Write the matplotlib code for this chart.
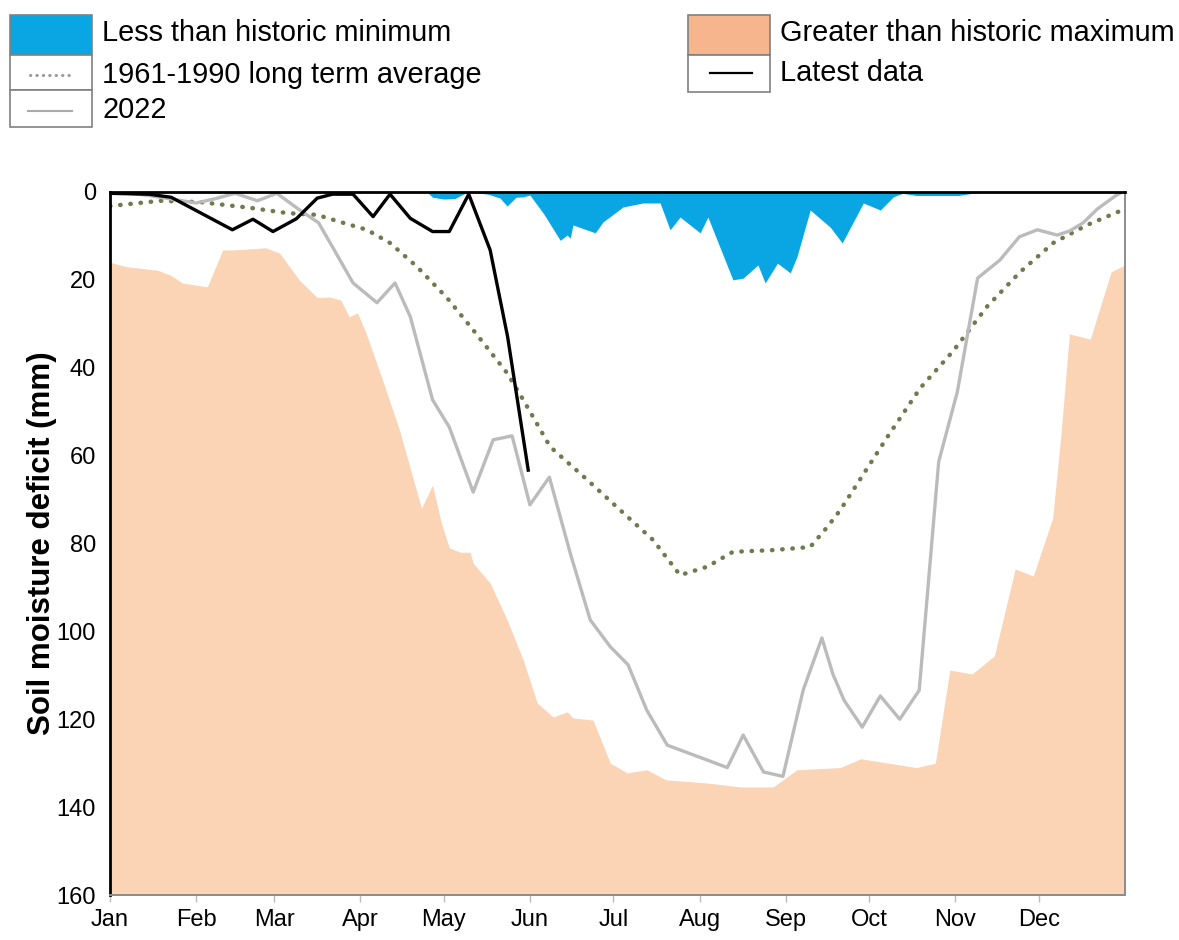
import matplotlib
matplotlib.use("Agg")
import matplotlib.pyplot as plt
from matplotlib.patches import Rectangle
from matplotlib.lines import Line2D

plt.rcParams['font.family'] = ['Liberation Sans', 'DejaVu Sans']

# month ticks (day of year)
month_days = [0, 31, 59, 90, 120, 151, 181, 212, 243, 273, 304, 334]
month_labels = ["Jan", "Feb", "Mar", "Apr", "May", "Jun",
                "Jul", "Aug", "Sep", "Oct", "Nov", "Dec"]

# greater than historic maximum (upper edge of orange area)
max_days = [0, 6, 17, 22, 26, 35, 40.5, 44, 56, 61, 68, 74.5, 79, 83, 86, 89, 92, 98,
            104, 112, 116, 119, 122, 126, 129.5, 130.6, 136.7, 142.8, 148.6, 153.6,
            159.4, 164.4, 166.5, 173.7, 179.9, 186, 193, 200, 214.7, 226.6, 238.5,
            247, 262.6, 270, 280, 290, 296.8, 302, 310, 318, 325.5, 332, 339, 342,
            345, 352.5, 360, 365]
max_vals = [16, 17, 17.8, 19, 20.7, 21.6, 13.2, 13.2, 12.7, 13.9, 20, 24, 23.9, 24.6,
            28.4, 27.5, 32, 42.8, 54, 72, 66.7, 75, 81, 82, 82, 84.5, 89, 97.4, 106.5,
            116.3, 119.5, 118.3, 119.7, 120.2, 130, 132.2, 131.5, 133.8, 134.5, 135.4,
            135.4, 131.5, 131, 129, 130, 131, 130, 108.8, 109.7, 105.6, 85.8, 87.4,
            74.2, 55, 32.3, 33.5, 18.2, 16.6]

# less than historic minimum (lower edge of blue area)
min_days = [0, 114, 116, 120, 124, 127, 129, 136, 140.3, 142.8, 146, 148.6, 151,
            156, 161.9, 164.4, 165.5, 166.5, 174.5, 177.3, 184.5, 191.7, 197.8,
            201.4, 205, 212.2, 215, 224, 227.7, 233, 235.6, 240, 244.6, 247, 251.8,
            259, 263.3, 270.9, 277, 281.7, 285, 290, 305, 310, 315, 365]
min_vals = [0, 0, 1.2, 1.6, 1.5, 0.5, 0, 0.5, 1.4, 3.2, 1.2, 1.1, 0.7, 5, 11, 9.8,
            10.5, 7.5, 9.3, 6.8, 3.4, 2.5, 2.5, 8.6, 5.7, 9.3, 5.7, 20, 19.6, 16.6,
            20.7, 16.2, 18.4, 14.8, 4.1, 8, 11.6, 2.5, 4.1, 1.1, 0.3, 0.8, 0.8, 0.3,
            0, 0]

# 1961-1990 long term average
lta_days = [0, 18, 32.4, 50.4, 63.7, 74.5, 82.7, 92.4, 100.7, 110.4, 121.2, 130.6,
            142.8, 148.6, 158.3, 171.6, 184.5, 195.3, 205, 214.7, 224, 238.5, 251.8,
            258, 262.6, 267.3, 279.5, 291.4, 303.2, 315.5, 327.3, 339.2, 351.4,
            363.3, 365]
lta_vals = [3.2, 2, 2.3, 3.6, 4.8, 5.2, 6.8, 8.6, 11.6, 17, 24.1, 31.4, 41.2, 47.3,
            58, 65.5, 73, 79.2, 87.2, 85.3, 81.9, 81.5, 80.8, 76.2, 72.4, 67.8, 55.8,
            44.6, 36.2, 26, 18.2, 11.6, 7.5, 4.3, 4]

# 2022
y2022_days = [0, 7, 14, 21, 31, 38, 45, 53, 60, 68, 75, 80, 87.4, 96, 102.5, 108,
              116, 122, 130.6, 137.8, 144.6, 151, 158, 165.5, 172.7, 179.9, 186.3,
              193, 200.4, 222, 227.7, 235, 242, 249.3, 256, 260, 264, 270.5, 277,
              284, 291, 298, 304.7, 312, 320, 327, 333.5, 340.6, 345, 350, 355,
              361.5, 364]
y2022_vals = [0, 0.3, 0.8, 1.5, 2.5, 1.5, 0.3, 2, 0.3, 4, 7, 12.5, 20.7, 25.2, 20.7,
              28.4, 47.3, 53.5, 68.3, 56.4, 55.5, 71.2, 64.9, 82.2, 97.4, 103.5,
              107.6, 117.9, 125.9, 131, 123.6, 132, 133, 113.3, 101.5, 109.8, 115.7,
              121.8, 114.7, 120, 113.4, 61.4, 45.5, 19.6, 15.5, 10.2, 8.6, 9.8, 8.9,
              7, 3.9, 0.9, 0]

# latest data
latest_days = [0, 14, 22, 44, 51.4, 58.6, 67, 74.5, 80, 87.4, 94.6, 100.7, 108,
               116, 122, 129, 136.7, 143, 150.4]
latest_vals = [0.3, 0.5, 1.2, 8.6, 6.2, 9, 6.1, 1.4, 0.5, 0.5, 5.6, 0.5, 6, 9, 9,
               0.5, 13.2, 33, 63.3]

orange_fill = "#FBD3B5"
orange_key = "#F6B58D"
blue = "#0AA6E4"
grey = "#BBBBBB"
olive = "#6F7A4E"

fig = plt.figure(figsize=(11.79, 9.4), dpi=100)
ax = fig.add_axes([110 / 1179, 45 / 940, 1015 / 1179, 703 / 940])

ax.fill_between(max_days, max_vals, 160, color=orange_fill, lw=0, zorder=1)
ax.fill_between(min_days, 0, min_vals, color=blue, lw=0, zorder=1)
ax.plot(lta_days, lta_vals, color=olive, lw=3.2, linestyle=(0, (0.1, 2.2)),
        dash_capstyle="round", zorder=3)
ax.plot(y2022_days, y2022_vals, color=grey, lw=2.4, zorder=4)
ax.plot(latest_days, latest_vals, color="black", lw=2.4, zorder=5)

ax.set_xlim(0, 365)
ax.set_ylim(160, 0)
ax.set_xticks(month_days)
ax.set_xticklabels(month_labels, fontsize=17)
ax.set_yticks(range(0, 161, 20))
ax.tick_params(axis="y", length=0, pad=10, labelsize=17)
ax.tick_params(axis="x", length=5, width=1, color="#BBBBBB", pad=5)
ax.set_ylabel("Soil moisture deficit (mm)", fontsize=22.5, fontweight="bold")
ax.yaxis.set_label_coords(-0.052, 0.5)

for side in ["left", "top"]:
    ax.spines[side].set_color("black")
    ax.spines[side].set_linewidth(2)
for side in ["right", "bottom"]:
    ax.spines[side].set_color("#8C8C8C")
    ax.spines[side].set_linewidth(1.4)
for s in ax.spines.values():
    s.set_zorder(6)

# legend drawn as boxed keys along the top
lg = fig.add_axes([0, 0, 1, 1], zorder=10)
lg.set_xlim(0, 1179)
lg.set_ylim(940, 0)
lg.axis("off")
lg.patch.set_alpha(0)

edge = "#808080"
# left key block
lg.add_patch(Rectangle((10, 15), 82, 40, facecolor=blue, edgecolor=edge, lw=1.2))
lg.add_patch(Rectangle((10, 55), 82, 35, facecolor="white", edgecolor=edge, lw=1.2))
lg.add_patch(Rectangle((10, 90), 82, 37, facecolor="white", edgecolor=edge, lw=1.2))
lg.add_line(Line2D([30, 70], [75, 75], color="#999999", lw=2.2,
                   linestyle=(0, (0.1, 2.0)), dash_capstyle="round"))
lg.add_line(Line2D([28, 72], [111, 111], color="#AAAAAA", lw=1.5))
lg.text(102, 33, "Less than historic minimum", fontsize=20.8, va="center", ha="left")
lg.text(102, 75, "1961-1990 long term average", fontsize=20.8, va="center", ha="left")
lg.text(102, 110, "2022", fontsize=20.8, va="center", ha="left")

# right key block
lg.add_patch(Rectangle((688, 15), 82, 40, facecolor=orange_key, edgecolor=edge, lw=1.2))
lg.add_patch(Rectangle((688, 55), 82, 37, facecolor="white", edgecolor=edge, lw=1.2))
lg.add_line(Line2D([710, 752], [73, 73], color="black", lw=1.6))
lg.text(780, 33, "Greater than historic maximum", fontsize=20.8, va="center", ha="left")
lg.text(780, 73, "Latest data", fontsize=20.8, va="center", ha="left")

fig.savefig("out.png", dpi=100)
